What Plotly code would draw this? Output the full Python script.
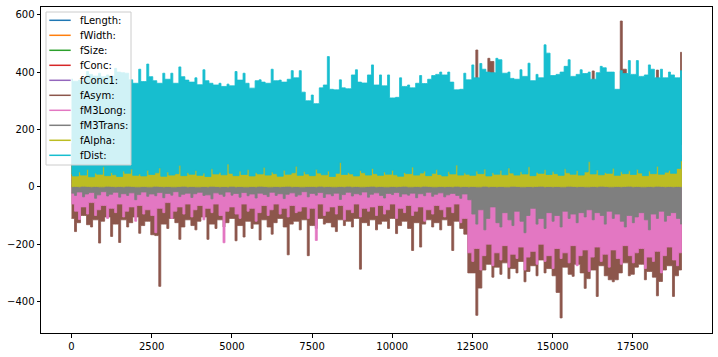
import numpy as np
import plotly.graph_objects as go

# ---------------- data (per-bin low / high envelopes) ----------------
N_ROWS = 19020

names = ["fLength:", "fWidth:", "fSize:", "fConc:", "fConc1:",
         "fAsym:", "fM3Long:", "fM3Trans:", "fAlpha:", "fDist:"]

x_ticks = [0, 2500, 5000, 7500, 10000, 12500, 15000, 17500]
y_ticks = [-400, -200, 0, 200, 400, 600]

fLength_hi = [150, 210, 120, 180, 240, 130, 200, 160, 190, 140, 230, 170, 250, 150, 210, 190, 240, 180, 220, 200]
fLength_lo = [15, 12, 18, 10, 14, 20, 11, 16, 13, 17, 12, 15, 19, 11, 14, 18, 16, 13, 12, 15]

fWidth_hi = [40, 55, 35, 60, 45, 50, 38, 65, 42, 48, 70, 55, 80, 62, 75, 58, 90, 66, 72, 60]
fWidth_lo = [4, 6, 3, 5, 7, 4, 6, 5, 3, 4, 8, 6, 5, 7, 4, 6, 5, 8, 6, 7]

fSize_hi = [3.8, 4.1, 3.6, 4.3, 3.9, 4.0, 3.7, 4.5, 3.8, 4.2, 4.4, 4.0, 4.6, 4.1, 4.3, 3.9, 4.7, 4.2, 4.4, 4.1]
fSize_lo = [2.1, 2.0, 2.2, 2.0, 2.1, 2.3, 2.0, 2.1, 2.2, 2.0, 2.1, 2.0, 2.2, 2.1, 2.0, 2.3, 2.1, 2.0, 2.2, 2.1]

fConc_hi = [0.75, 0.82, 0.68, 0.79, 0.85, 0.71, 0.77, 0.88, 0.73, 0.80, 0.69, 0.76, 0.83, 0.72, 0.78, 0.86, 0.70, 0.81, 0.74, 0.79]
fConc_lo = [0.08, 0.06, 0.10, 0.07, 0.05, 0.09, 0.06, 0.08, 0.07, 0.05, 0.06, 0.09, 0.07, 0.08, 0.06, 0.05, 0.07, 0.06, 0.08, 0.07]

fConc1_hi = [0.52, 0.61, 0.45, 0.58, 0.66, 0.49, 0.55, 0.63, 0.47, 0.60, 0.44, 0.57, 0.65, 0.50, 0.54, 0.67, 0.48, 0.59, 0.53, 0.56]
fConc1_lo = [0.02, 0.03, 0.01, 0.02, 0.03, 0.02, 0.01, 0.03, 0.02, 0.02, 0.01, 0.03, 0.02, 0.01, 0.02, 0.03, 0.02, 0.01, 0.02, 0.03]

fAsym_hi = [
    80, 110, 65, 95, 130, 75, 100, 120, 85, 105,
    90, 125, 70, 115, 100, 140, 80, 95, 110, 75,
    120, 85, 105, 135, 70, 100, 115, 90, 125, 80,
    95, 130, 75, 110, 85, 120, 100, 140, 90, 105,
    115, 80, 125, 95, 135, 70, 110, 100, 120, 85,
    105, 130, 90, 115, 75, 125, 95, 110, 140, 80,
    100, 120, 85, 135, 95, 110, 75, 125, 105, 90,
    130, 80, 115, 100, 140, 90, 120, 85, 110, 95,
    125, 75, 105, 135, 90, 115, 100, 130, 80, 120,
    95, 110, 140, 85, 125, 100, 115, 90, 130, 200,
    220, 477, 180, 250, 448, 437, 210, 240, 170, 230,
    190, 260, 200, 230, 175, 245, 215, 185, 270, 205,
    235, 180, 255, 210, 225, 195, 265, 185, 240, 220,
    404, 200, 250, 215, 185, 235, 260, 578, 410, 225,
    205, 245, 190, 230, 265, 210, 407, 240, 195, 255,
    220, 245, 469]
fAsym_lo = [
    -110, -156, -125, -100, -132, -140, -115, -196, -120, -105,
    -173, -130, -194, -115, -140, -125, -105, -162, -135, -120,
    -167, -170, -347, -130, -145, -110, -125, -183, -140, -115,
    -135, -150, -120, -105, -183, -130, -145, -115, -140, -125,
    -110, -188, -135, -175, -120, -145, -130, -185, -115, -140,
    -165, -125, -110, -140, -237, -130, -120, -150, -115, -240,
    -135, -145, -110, -130, -125, -140, -156, -115, -135, -120,
    -140, -110, -287, -125, -135, -115, -150, -130, -120, -145,
    -110, -163, -135, -120, -145, -222, -125, -210, -130, -115,
    -140, -125, -150, -115, -135, -222, -120, -145, -165, -300,
    -300, -448, -353, -290, -270, -315, -280, -305, -265, -320,
    -285, -300, -260, -331, -295, -275, -310, -255, -300, -285,
    -310, -368, -457, -280, -305, -312, -270, -300, -354, -320,
    -290, -382, -275, -310, -324, -331, -324, -300, -265, -310,
    -305, -280, -270, -324, -295, -315, -380, -330, -290, -275,
    -382, -310, -290]

fM3Long_hi = [
    35, 48, 28, 55, 40, 62, 33, 45, 52, 38,
    60, 30, 47, 42, 58, 36, 50, 44, 65, 32,
    46, 53, 39, 61, 34, 49, 57, 41, 37, 54,
    43, 59, 31, 48, 52, 38, 63, 45, 40, 56,
    35, 50, 47, 60, 33, 44, 58, 39, 51, 42,
    55, 37, 49, 46, 62, 34, 53, 41, 48, 57,
    40, 52, 36, 59, 45, 50, 38, 64, 43, 47,
    56, 33, 51, 44, 60, 39, 48, 54, 35, 58,
    42, 49, 61, 37, 53, 46, 40, 57, 45, 50,
    38, 62, 44, 51, 36, 55, 47, 41, 59, 120,
    150, 110, 180, 130, 160, 95, 170, 140, 120, 155,
    105, 165, 135, 190, 125, 145, 100, 175, 130, 160,
    140, 115, 185, 125, 150, 170, 110, 160, 135, 145,
    120, 175, 140, 155, 105, 165, 130, 150, 180, 125,
    160, 135, 145, 115, 170, 140, 155, 125, 165, 130,
    150, 120, 145]
fM3Long_lo = [
    -60, -85, -114, -70, -95, -55, -100, -80, -65, -110,
    -75, -90, -60, -105, -85, -70, -120, -65, -95, -80,
    -100, -160, -75, -90, -55, -110, -85, -70, -95, -60,
    -105, -80, -65, -115, -75, -90, -60, -100, -195, -85,
    -70, -95, -110, -60, -85, -75, -120, -90, -65, -100,
    -80, -60, -95, -75, -105, -65, -90, -85, -70, -110,
    -75, -187, -60, -100, -85, -70, -95, -65, -115, -80,
    -90, -60, -105, -75, -85, -70, -100, -65, -95, -80,
    -60, -110, -75, -90, -65, -100, -85, -70, -120, -80,
    -95, -65, -80, -105, -70, -90, -60, -125, -110, -230,
    -260, -215, -290, -240, -200, -275, -230, -255, -205, -280,
    -235, -250, -210, -290, -245, -225, -270, -200, -260, -240,
    -285, -215, -250, -230, -265, -205, -275, -240, -220, -295,
    -245, -210, -260, -235, -280, -220, -250, -270, -205, -240,
    -265, -230, -215, -285, -245, -260, -225, -300, -240, -210,
    -255, -275, -230]

fM3Trans_hi = [
    24, 31, 19, 28, 35, 22, 27, 18, 33, 25,
    29, 21, 34, 26, 20, 32, 23, 30, 19, 27,
    33, 24, 28, 21, 36, 25, 30, 22, 27, 31,
    20, 34, 26, 29, 23, 38, 24, 28, 32, 21,
    27, 35, 22, 30, 25, 33, 19, 29, 26, 31,
    24, 28, 37, 22, 30, 26, 33, 21, 29, 25,
    31, 23, 27, 34, 20, 28, 32, 24, 30, 26,
    22, 35, 25, 29, 33, 21, 27, 31, 24, 28,
    30, 23, 26, 36, 22, 32, 25, 28, 34, 20,
    27, 31, 24, 29, 35, 22, 30, 26, 33, 70,
    110, 85, 130, 95, 120, 75, 140, 100, 90, 125,
    80, 115, 135, 95, 105, 70, 125, 110, 150, 85,
    100, 130, 90, 115, 80, 120, 95, 140, 105, 85,
    125, 90, 110, 100, 135, 75, 115, 95, 120, 105,
    85, 130, 100, 110, 90, 125, 80, 115, 105, 95,
    120, 90, 110]
fM3Trans_lo = [
    -22, -30, -18, -35, -25, -20, -40, -28, -17, -32,
    -26, -19, -36, -24, -30, -21, -45, -27, -18, -33,
    -25, -31, -20, -38, -23, -29, -17, -34, -26, -22,
    -37, -24, -19, -30, -28, -42, -21, -26, -33, -18,
    -29, -23, -36, -20, -31, -25, -39, -22, -27, -34,
    -19, -30, -24, -41, -26, -21, -33, -28, -17, -35,
    -23, -29, -20, -37, -25, -31, -22, -44, -27, -19,
    -32, -24, -28, -18, -36, -26, -21, -30, -39, -23,
    -27, -20, -34, -25, -29, -22, -38, -24, -31, -19,
    -33, -26, -21, -35, -28, -23, -30, -40, -25, -45,
    -95, -130, -80, -150, -110, -70, -125, -140, -90, -115,
    -135, -85, -120, -160, -100, -75, -130, -110, -145, -90,
    -120, -100, -140, -85, -110, -95, -125, -90, -105, -80,
    -115, -90, -100, -130, -85, -110, -95, -120, -140, -100,
    -125, -105, -90, -115, -150, -95, -110, -85, -120, -100,
    -90, -110, -130]

fAlpha_hi = [
    72, 85, 64, 78, 88, 70, 81, 66, 89, 75,
    83, 68, 77, 86, 62, 79, 71, 90, 74, 82,
    67, 84, 76, 69, 87, 73, 80, 88, 65, 79,
    86, 71, 78, 63, 82, 75, 89, 70, 84, 88,
    74, 80, 67, 85, 72, 90, 69, 83, 77, 81,
    88, 73, 79, 66, 84, 71, 87, 75, 82, 69,
    80, 76, 89, 72, 85, 68, 83, 90, 74, 86,
    71, 84, 78, 67, 88, 75, 82, 70, 86, 79,
    73, 89, 81, 68, 85, 77, 72, 87, 80, 90,
    76, 83, 70, 88, 74, 86, 89, 79, 72, 84,
    87, 80, 89, 85, 90, 82, 88, 86, 84, 89,
    83, 90, 86, 88, 89, 81, 87, 85, 90, 84,
    88, 86, 82, 89, 85, 90, 87, 83, 88, 90,
    84, 89, 86, 90, 83, 88, 85, 87, 89, 86,
    90, 85, 88, 84, 89, 87, 90, 86, 88, 89,
    85, 90, 90]
fAlpha_lo = [
    0, 1, 0, 2, 1, 0, 1, 0, 0, 2,
    1, 0, 1, 0, 2, 1, 0, 0, 1, 0,
    0, 2, 1, 0, 1, 0, 0, 1, 2, 0,
    1, 0, 0, 1, 0, 2, 1, 0, 1, 0,
    2, 0, 1, 0, 0, 1, 0, 2, 1, 0,
    0, 1, 0, 1, 2, 0, 1, 0, 0, 1,
    1, 0, 2, 0, 1, 0, 0, 1, 0, 2,
    0, 1, 0, 0, 1, 2, 0, 1, 0, 0,
    1, 0, 1, 2, 0, 0, 1, 0, 2, 1,
    0, 0, 1, 0, 1, 0, 2, 0, 1, 0,
    1, 0, 0, 2, 0, 1, 0, 1, 0, 0,
    2, 1, 0, 0, 1, 0, 1, 2, 0, 1,
    0, 1, 0, 0, 2, 1, 0, 1, 0, 0,
    1, 0, 2, 1, 0, 0, 1, 0, 1, 2,
    0, 1, 0, 0, 1, 0, 2, 1, 0, 1,
    0, 1, 0]

fDist_hi = [
    376, 368, 372, 366, 402, 392, 386, 396, 384, 390,
    386, 413, 400, 398, 396, 373, 361, 410, 367, 428,
    384, 370, 361, 396, 375, 396, 361, 418, 384, 372,
    365, 380, 356, 408, 370, 361, 355, 361, 350, 358,
    352, 402, 372, 396, 361, 344, 370, 373, 365, 361,
    410, 370, 372, 365, 375, 405, 380, 405, 330, 300,
    320, 290, 345, 355, 454, 340, 338, 373, 345, 342,
    390, 408, 365, 362, 390, 425, 355, 390, 352, 390,
    310, 312, 380, 350, 355, 345, 361, 388, 360, 375,
    388, 392, 400, 390, 400, 365, 338, 340, 396, 373,
    425, 380, 430, 410, 400, 398, 448, 443, 396, 400,
    378, 375, 408, 385, 431, 370, 392, 380, 495, 466,
    388, 392, 400, 420, 443, 385, 392, 408, 395, 400,
    375, 398, 420, 415, 400, 400, 340, 405, 395, 440,
    392, 440, 385, 390, 425, 410, 380, 410, 380, 400,
    390, 380, 405]
fDist_lo = [
    45, 38, 52, 41, 60, 35, 48, 44, 70, 39,
    50, 42, 36, 55, 47, 62, 40, 45, 38, 58,
    43, 49, 66, 37, 52, 41, 46, 75, 39, 50,
    44, 57, 40, 48, 36, 63, 45, 51, 42, 80,
    47, 39, 55, 43, 60, 38, 50, 45, 68, 41,
    52, 46, 37, 58, 44, 49, 72, 40, 53, 45,
    39, 61, 48, 42, 55, 36, 47, 85, 43, 50,
    45, 38, 57, 49, 41, 64, 46, 40, 52, 44,
    58, 42, 37, 50, 46, 69, 41, 48, 55, 39,
    47, 60, 43, 38, 53, 45, 76, 41, 49, 44,
    40, 55, 46, 62, 38, 50, 44, 58, 42, 66,
    48, 41, 53, 45, 70, 39, 51, 47, 60, 43,
    54, 46, 40, 63, 49, 44, 57, 41, 52, 88,
    45, 59, 42, 50, 47, 65, 40, 53, 46, 56,
    43, 61, 48, 39, 55, 46, 72, 44, 51, 58,
    47, 64, 90]

series_lo = [fLength_lo, fWidth_lo, fSize_lo, fConc_lo, fConc1_lo,
             fAsym_lo, fM3Long_lo, fM3Trans_lo, fAlpha_lo, fDist_lo]
series_hi = [fLength_hi, fWidth_hi, fSize_hi, fConc_hi, fConc1_hi,
             fAsym_hi, fM3Long_hi, fM3Trans_hi, fAlpha_hi, fDist_hi]

# ---------------- styling ----------------
colors = ["#1f77b4", "#ff7f0e", "#2ca02c", "#d62728", "#9467bd",
          "#8c564b", "#e377c2", "#7f7f7f", "#bcbd22", "#17becf"]
# how the gap between two neighbouring columns is closed on the lower edge
lo_gap = [max, max, max, max, max, max, max, max, max, min]
FONT = "DejaVu Sans"
W, H = 718, 357
ML, MR, MT, MB = 41, 6, 7, 24
X_RANGE = [-951, 19970]
Y_RANGE = [-509.6, 626.9]


def skyline(vals, centers, half, pick):
    """Column outline: narrow column per bin, gap closed at the level chosen by pick."""
    xs, ys = [], []
    n = len(vals)
    for k in range(n):
        xs += [centers[k] - half, centers[k] + half]
        ys += [vals[k], vals[k]]
        if k < n - 1:
            m = pick(vals[k], vals[k + 1])
            xs += [centers[k] + half, centers[k + 1] - half]
            ys += [m, m]
    xs = list(np.clip(xs, 0, N_ROWS - 1))
    return xs, ys


fig = go.Figure()
for name, lo, hi, c, lpick in zip(names, series_lo, series_hi, colors, lo_gap):
    n = min(len(lo), len(hi))
    centers = np.linspace(0, N_ROWS - 1, n)
    bw = centers[1] - centers[0]
    half = bw / 4.0
    ux, uy = skyline(list(hi[:n]), centers, half, min)
    lx, ly = skyline(list(lo[:n]), centers, half, lpick)
    fig.add_trace(go.Scatter(
        x=ux + lx[::-1], y=uy + ly[::-1],
        mode="lines", fill="toself", fillcolor=c, name=name,
        line=dict(color=c, width=0.8, simplify=False),
        showlegend=False, hoverinfo="skip"))


def fmt(v):
    return str(v).replace("-", "\u2212")


axis_common = dict(showline=True, mirror=True, linecolor="black", linewidth=1,
                   ticks="outside", ticklen=3.5, tickwidth=1, tickcolor="black",
                   showgrid=False, zeroline=False,
                   tickfont=dict(family=FONT, size=10, color="black"))

fig.update_xaxes(range=X_RANGE, tickvals=x_ticks, ticktext=[fmt(v) for v in x_ticks],
                 **axis_common)
fig.update_yaxes(range=Y_RANGE, tickvals=y_ticks, ticktext=[fmt(v) for v in y_ticks],
                 **axis_common)

# ---------------- legend drawn manually (matplotlib style) ----------------
pw = W - ML - MR
ph = H - MT - MB


def px(xp):
    return (xp - ML) / pw


def py(yp):
    return (H - MB - yp) / ph


shapes = [dict(type="rect", xref="paper", yref="paper",
               x0=px(46), x1=px(131), y0=py(165), y1=py(12),
               fillcolor="rgba(255,255,255,0.8)",
               line=dict(color="#cccccc", width=1), layer="above")]
annotations = []
for i, (name, c) in enumerate(zip(names, colors)):
    yy = py(20.3 + 15.0 * i)
    shapes.append(dict(type="line", xref="paper", yref="paper",
                       x0=px(49.3), x1=px(70.7), y0=yy, y1=yy,
                       line=dict(color=c, width=1.5), layer="above"))
    annotations.append(dict(xref="paper", yref="paper", x=px(78), y=yy,
                            text=name, showarrow=False, xanchor="left",
                            yanchor="middle",
                            font=dict(family=FONT, size=10, color="black")))

fig.update_layout(width=W, height=H,
                  margin=dict(l=ML, r=MR, t=MT, b=MB, pad=0),
                  plot_bgcolor="white", paper_bgcolor="white",
                  showlegend=False, shapes=shapes, annotations=annotations,
                  font=dict(family=FONT, size=10, color="black"))

fig.write_html("out.html")
